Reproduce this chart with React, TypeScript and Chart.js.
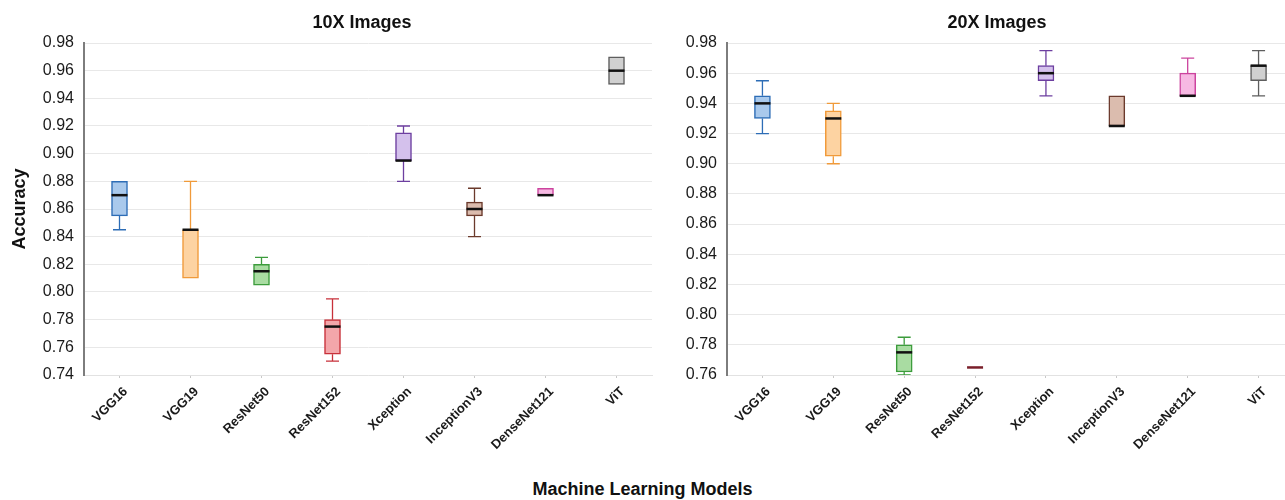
import React, { useEffect, useRef } from 'react';
import { Chart, registerables } from 'chart.js';

Chart.register(...registerables);

// Model names on the x axis
const models = ['VGG16', 'VGG19', 'ResNet50', 'ResNet152', 'Xception', 'InceptionV3', 'DenseNet121', 'ViT'];

// 10X magnification: five-number summaries per model
const min10 = [0.845, 0.81, 0.805, 0.75, 0.88, 0.84, 0.87, 0.95];
const q1_10 = [0.855, 0.81, 0.805, 0.755, 0.895, 0.855, 0.87, 0.95];
const median10 = [0.87, 0.845, 0.815, 0.775, 0.895, 0.86, 0.87, 0.96];
const q3_10 = [0.88, 0.845, 0.82, 0.78, 0.915, 0.865, 0.875, 0.97];
const max10 = [0.88, 0.88, 0.825, 0.795, 0.92, 0.875, 0.875, 0.97];

// 20X magnification: five-number summaries per model
const min20 = [0.92, 0.9, 0.76, 0.765, 0.945, 0.925, 0.945, 0.945];
const q1_20 = [0.93, 0.905, 0.762, 0.765, 0.955, 0.925, 0.945, 0.955];
const median20 = [0.94, 0.93, 0.775, 0.765, 0.96, 0.925, 0.945, 0.965];
const q3_20 = [0.945, 0.935, 0.78, 0.765, 0.965, 0.945, 0.96, 0.965];
const max20 = [0.955, 0.94, 0.785, 0.765, 0.975, 0.945, 0.97, 0.975];

// Axis ranges and tick step
const yRange10 = [0.74, 0.98];
const yRange20 = [0.76, 0.98];
const yStep = 0.02;

const panelTitles = ['10X Images', '20X Images'];
const xAxisTitle = 'Machine Learning Models';
const yAxisTitle = 'Accuracy';

const fillColors = ['#a9c9ec', '#fdd3a2', '#a9dca2', '#f3a6aa', '#d4c1ec', '#dbbcae', '#f7b9e3', '#d0d0d0'];
const lineColors = ['#2d6db6', '#f09a3a', '#3c9c3c', '#c8303a', '#6d3fa0', '#6b3a2c', '#cc449e', '#5e5e5e'];

const FONT = '"Liberation Sans", Arial, Helvetica, sans-serif';

type Stats = { min: number[]; q1: number[]; median: number[]; q3: number[]; max: number[] };

// Whiskers, caps and median lines drawn on top of the floating-bar boxes
function makeWhiskerPlugin(s: Stats) {
  return {
    id: 'whiskers',
    afterDatasetsDraw(chart: any) {
      const { ctx, chartArea, scales } = chart;
      const xs = scales.x;
      const ys = scales.y;
      ctx.save();
      ctx.beginPath();
      ctx.rect(chartArea.left, chartArea.top, chartArea.right - chartArea.left, chartArea.bottom - chartArea.top);
      ctx.clip();
      const capHalf = 6.5;
      const medHalf = 8;
      models.forEach((_, i) => {
        const cx = xs.getPixelForValue(i);
        const pMin = ys.getPixelForValue(s.min[i]);
        const pQ1 = ys.getPixelForValue(s.q1[i]);
        const pMed = ys.getPixelForValue(s.median[i]);
        const pQ3 = ys.getPixelForValue(s.q3[i]);
        const pMax = ys.getPixelForValue(s.max[i]);
        ctx.strokeStyle = lineColors[i];
        ctx.lineWidth = 1.3;
        if (s.max[i] > s.q3[i]) {
          ctx.beginPath();
          ctx.moveTo(cx, pQ3);
          ctx.lineTo(cx, pMax);
          ctx.moveTo(cx - capHalf, pMax);
          ctx.lineTo(cx + capHalf, pMax);
          ctx.stroke();
        }
        if (s.min[i] < s.q1[i]) {
          ctx.beginPath();
          ctx.moveTo(cx, pQ1);
          ctx.lineTo(cx, pMin);
          ctx.moveTo(cx - capHalf, pMin);
          ctx.lineTo(cx + capHalf, pMin);
          ctx.stroke();
        }
        ctx.strokeStyle = s.q1[i] === s.q3[i] ? '#7a1f2a' : '#111111';
        ctx.lineWidth = 2.5;
        ctx.beginPath();
        ctx.moveTo(cx - medHalf, pMed);
        ctx.lineTo(cx + medHalf, pMed);
        ctx.stroke();
      });
      ctx.restore();
    },
  };
}

function buildConfig(s: Stats, yRange: number[], yAxisWidth: number, padRight: number, showYTitle: boolean): any {
  return {
    type: 'bar',
    data: {
      labels: models,
      datasets: [
        {
          data: models.map((_, i) => [s.q1[i], s.q3[i]]),
          backgroundColor: fillColors,
          borderColor: lineColors,
          borderWidth: 1.5,
          borderSkipped: false,
          barThickness: 16,
        },
      ],
    },
    options: {
      responsive: false,
      animation: false,
      devicePixelRatio: 1,
      layout: { padding: { left: 0, right: padRight, top: 43, bottom: 0 } },
      plugins: {
        legend: { display: false },
        tooltip: { enabled: false },
        title: { display: false },
      },
      scales: {
        x: {
          type: 'category',
          offset: true,
          grid: { display: true, offset: false, drawOnChartArea: false, tickLength: 3, color: '#c8c8c8' },
          border: { color: '#e2e2e2', width: 1 },
          ticks: {
            autoSkip: false,
            minRotation: 45,
            maxRotation: 45,
            padding: 6,
            labelOffset: 6,
            color: '#1a1a1a',
            font: { family: FONT, size: 13, weight: 'bold' },
          },
          afterFit: (scale: any) => {
            scale.height = 85;
          },
        },
        y: {
          min: yRange[0],
          max: yRange[1],
          grid: { color: '#e8e8e8', drawTicks: false },
          border: { color: '#7d7d7d', width: 2 },
          ticks: {
            stepSize: yStep,
            padding: 10,
            color: '#1a1a1a',
            font: { family: FONT, size: 16 },
            callback: (v: number) => Number(v).toFixed(2),
          },
          title: {
            display: showYTitle,
            text: yAxisTitle,
            color: '#111',
            font: { family: FONT, size: 18, weight: 'bold' },
            padding: { top: 9, bottom: 0 },
          },
          afterFit: (scale: any) => {
            scale.width = yAxisWidth;
          },
        },
      },
    },
    plugins: [makeWhiskerPlugin(s)],
  };
}

const titleStyle: React.CSSProperties = {
  position: 'absolute',
  top: 11,
  width: 200,
  textAlign: 'center',
  fontFamily: FONT,
  fontWeight: 'bold',
  fontSize: 18,
  lineHeight: '22px',
  color: '#111',
  whiteSpace: 'nowrap',
};

export default function App() {
  const leftRef = useRef<HTMLCanvasElement>(null);
  const rightRef = useRef<HTMLCanvasElement>(null);

  useEffect(() => {
    const left = new Chart(
      leftRef.current as HTMLCanvasElement,
      buildConfig({ min: min10, q1: q1_10, median: median10, q3: q3_10, max: max10 }, yRange10, 84, 18, true)
    );
    const right = new Chart(
      rightRef.current as HTMLCanvasElement,
      buildConfig({ min: min20, q1: q1_20, median: median20, q3: q3_20, max: max20 }, yRange20, 62, 41, false)
    );
    return () => {
      left.destroy();
      right.destroy();
    };
  }, []);

  return (
    <div
      style={{
        position: 'absolute',
        left: 0,
        top: 0,
        width: 1285,
        height: 500,
        overflow: 'hidden',
        background: '#ffffff',
      }}
    >
      <canvas ref={leftRef} width={670} height={460} style={{ position: 'absolute', left: 0, top: 0 }} />
      <canvas ref={rightRef} width={670} height={460} style={{ position: 'absolute', left: 665, top: 0 }} />
      <div style={{ ...titleStyle, left: 362 - 100 }}>{panelTitles[0]}</div>
      <div style={{ ...titleStyle, left: 997 - 100 }}>{panelTitles[1]}</div>
      <div
        style={{
          position: 'absolute',
          left: 0,
          top: 479,
          width: 1285,
          textAlign: 'center',
          fontFamily: FONT,
          fontWeight: 'bold',
          fontSize: 18,
          lineHeight: '20px',
          color: '#111',
        }}
      >
        {xAxisTitle}
      </div>
    </div>
  );
}
